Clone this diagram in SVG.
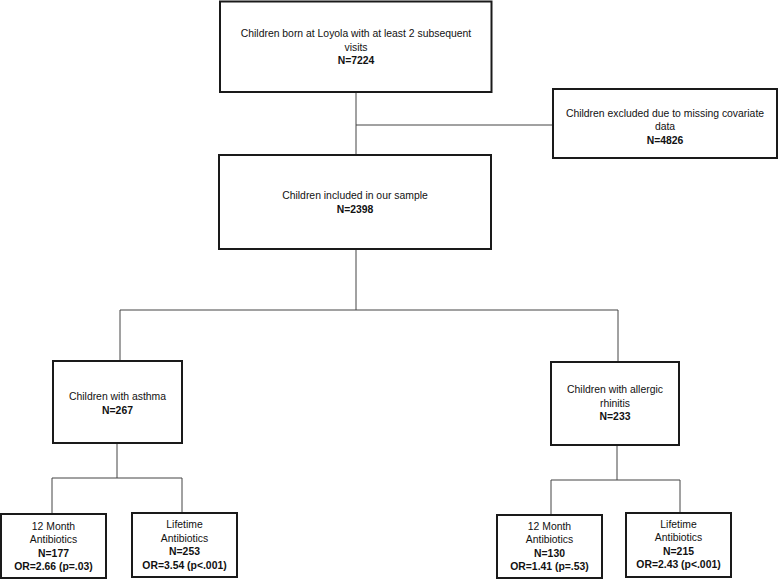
<svg xmlns="http://www.w3.org/2000/svg" width="779" height="579" viewBox="0 0 779 579">
<style>
.box{fill:#fff;stroke:#1a1a1a;stroke-width:2}
.con{fill:none;stroke:#444;stroke-width:1}
text{font-family:"Liberation Sans",Arial,sans-serif;font-size:10.4px;fill:#111;text-anchor:middle}
.b{font-weight:bold}
</style>
<rect width="779" height="579" fill="#fff"/>
<g id="connectors">
<path class="con" d="M356 92V155M356 125H553"/>
<path class="con" d="M356 249V310M120 310H618M120 310V361M618 310V362"/>
<path class="con" d="M117 443V478M52 478H182M52 478V514M182 478V513"/>
<path class="con" d="M617 445V480M551 480H680M551 480V515M680 480V513"/>
</g>
<g id="n-born">
<rect class="box" x="220" y="1.5" width="271.5" height="90.5"/>
<text x="356" y="37">Children born at Loyola with at least 2 subsequent</text>
<text x="356" y="51">visits</text>
<text class="b" x="356" y="64">N=7224</text>
</g>
<g id="n-excluded">
<rect class="box" x="553" y="89" width="224" height="69"/>
<text x="665" y="117">Children excluded due to missing covariate</text>
<text x="665" y="130">data</text>
<text class="b" x="665" y="144">N=4826</text>
</g>
<g id="n-sample">
<rect class="box" x="219" y="155" width="272" height="94"/>
<text x="355" y="199">Children included in our sample</text>
<text class="b" x="355" y="213">N=2398</text>
</g>
<g id="n-asthma">
<rect class="box" x="53" y="361" width="129" height="82"/>
<text x="117.5" y="400">Children with asthma</text>
<text class="b" x="117.5" y="414">N=267</text>
</g>
<g id="n-rhinitis">
<rect class="box" x="551" y="362" width="128" height="83"/>
<text x="615" y="393">Children with allergic</text>
<text x="615" y="407">rhinitis</text>
<text class="b" x="615" y="420">N=233</text>
</g>
<g id="n-a12">
<rect class="box" x="1" y="514" width="105" height="64"/>
<text x="53.5" y="530">12 Month</text>
<text x="53.5" y="543">Antibiotics</text>
<text class="b" x="53.5" y="557">N=177</text>
<text class="b" x="53.5" y="570">OR=2.66 (p=.03)</text>
</g>
<g id="n-alife">
<rect class="box" x="132" y="513" width="105" height="64"/>
<text x="184.5" y="528">Lifetime</text>
<text x="184.5" y="542">Antibiotics</text>
<text class="b" x="184.5" y="555">N=253</text>
<text class="b" x="184.5" y="569">OR=3.54 (p&lt;.001)</text>
</g>
<g id="n-r12">
<rect class="box" x="497" y="515" width="105" height="63"/>
<text x="549.5" y="530">12 Month</text>
<text x="549.5" y="543">Antibiotics</text>
<text class="b" x="549.5" y="557">N=130</text>
<text class="b" x="549.5" y="570">OR=1.41 (p=.53)</text>
</g>
<g id="n-rlife">
<rect class="box" x="626" y="513" width="105" height="64"/>
<text x="678.5" y="528">Lifetime</text>
<text x="678.5" y="541">Antibiotics</text>
<text class="b" x="678.5" y="555">N=215</text>
<text class="b" x="678.5" y="568">OR=2.43 (p&lt;.001)</text>
</g>
</svg>
